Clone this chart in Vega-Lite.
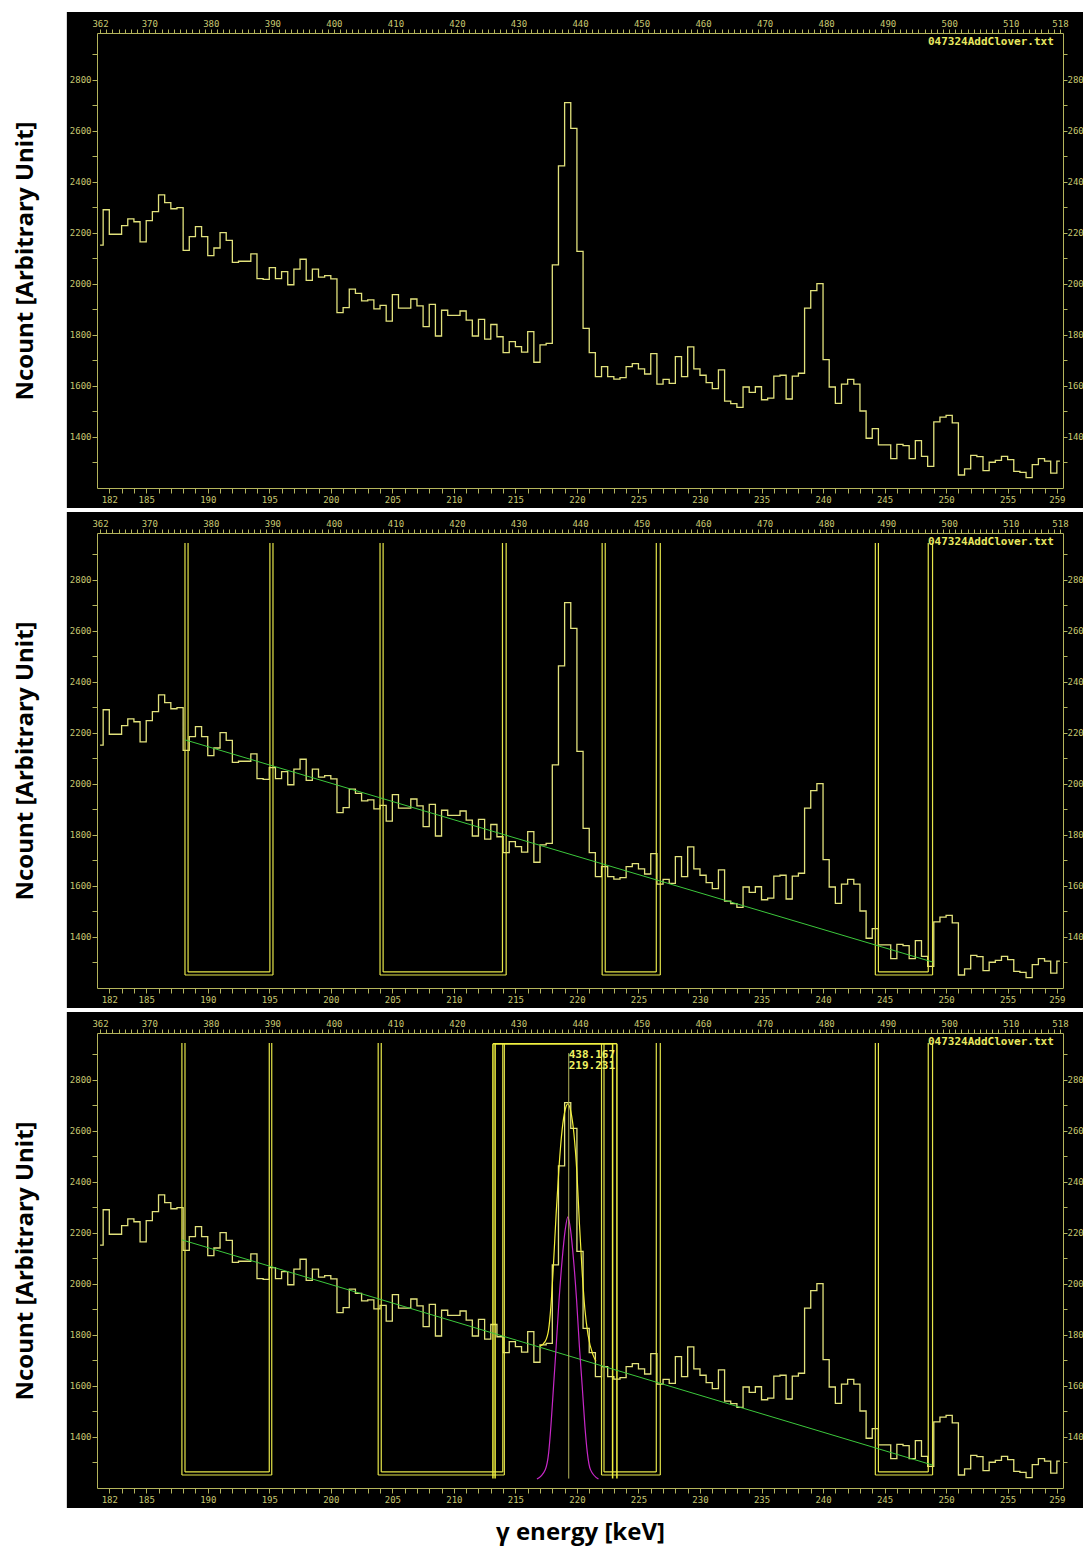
{
  "$schema": "https://vega.github.io/schema/vega-lite/v6.json",
  "background": "white",
  "padding": {"left": 13, "top": 12, "right": 0, "bottom": 4},
  "spacing": 4,
  "config": {
    "view": {"stroke": null},
    "axis": {
      "grid": false,
      "domainColor": "#b4b45c",
      "tickColor": "#b4b45c",
      "labelColor": "#c8c870",
      "labelFont": "DejaVu Sans Mono",
      "labelFontSize": 9,
      "titleColor": "black",
      "titleFont": "Open Sans",
      "titleFontWeight": "bold",
      "titleFontSize": 24
    }
  },
  "datasets": {
    "hist": [
      {"channel":362,"count":2152},{"channel":363,"count":2291},{"channel":364,"count":2195},{"channel":365,"count":2195},{"channel":366,"count":2229},{"channel":367,"count":2255},{"channel":368,"count":2244},{"channel":369,"count":2165},{"channel":370,"count":2248},{"channel":371,"count":2284},
      {"channel":372,"count":2349},{"channel":373,"count":2319},{"channel":374,"count":2295},{"channel":375,"count":2299},{"channel":376,"count":2132},{"channel":377,"count":2186},{"channel":378,"count":2225},{"channel":379,"count":2186},{"channel":380,"count":2111},{"channel":381,"count":2141},
      {"channel":382,"count":2201},{"channel":383,"count":2171},{"channel":384,"count":2085},{"channel":385,"count":2089},{"channel":386,"count":2089},{"channel":387,"count":2118},{"channel":388,"count":2021},{"channel":389,"count":2018},{"channel":390,"count":2064},{"channel":391,"count":2021},
      {"channel":392,"count":2048},{"channel":393,"count":1997},{"channel":394,"count":2058},{"channel":395,"count":2097},{"channel":396,"count":2014},{"channel":397,"count":2058},{"channel":398,"count":2027},{"channel":399,"count":2033},{"channel":400,"count":2020},{"channel":401,"count":1888},
      {"channel":402,"count":1907},{"channel":403,"count":1980},{"channel":404,"count":1963},{"channel":405,"count":1934},{"channel":406,"count":1938},{"channel":407,"count":1902},{"channel":408,"count":1916},{"channel":409,"count":1854},{"channel":410,"count":1958},{"channel":411,"count":1905},
      {"channel":412,"count":1905},{"channel":413,"count":1941},{"channel":414,"count":1914},{"channel":415,"count":1833},{"channel":416,"count":1920},{"channel":417,"count":1796},{"channel":418,"count":1897},{"channel":419,"count":1877},{"channel":420,"count":1877},{"channel":421,"count":1894},
      {"channel":422,"count":1858},{"channel":423,"count":1796},{"channel":424,"count":1861},{"channel":425,"count":1784},{"channel":426,"count":1841},{"channel":427,"count":1793},{"channel":428,"count":1731},{"channel":429,"count":1774},{"channel":430,"count":1754},{"channel":431,"count":1733},
      {"channel":432,"count":1813},{"channel":433,"count":1693},{"channel":434,"count":1761},{"channel":435,"count":1767},{"channel":436,"count":2075},{"channel":437,"count":2463},{"channel":438,"count":2711},{"channel":439,"count":2610},{"channel":440,"count":2128},{"channel":441,"count":1826},
      {"channel":442,"count":1731},{"channel":443,"count":1637},{"channel":444,"count":1676},{"channel":445,"count":1637},{"channel":446,"count":1627},{"channel":447,"count":1633},{"channel":448,"count":1676},{"channel":449,"count":1688},{"channel":450,"count":1667},{"channel":451,"count":1647},
      {"channel":452,"count":1727},{"channel":453,"count":1607},{"channel":454,"count":1626},{"channel":455,"count":1610},{"channel":456,"count":1715},{"channel":457,"count":1637},{"channel":458,"count":1753},{"channel":459,"count":1667},{"channel":460,"count":1642},{"channel":461,"count":1613},
      {"channel":462,"count":1590},{"channel":463,"count":1663},{"channel":464,"count":1541},{"channel":465,"count":1531},{"channel":466,"count":1516},{"channel":467,"count":1596},{"channel":468,"count":1575},{"channel":469,"count":1597},{"channel":470,"count":1546},{"channel":471,"count":1552},
      {"channel":472,"count":1639},{"channel":473,"count":1642},{"channel":474,"count":1549},{"channel":475,"count":1639},{"channel":476,"count":1650},{"channel":477,"count":1905},{"channel":478,"count":1974},{"channel":479,"count":2001},{"channel":480,"count":1703},{"channel":481,"count":1596},
      {"channel":482,"count":1532},{"channel":483,"count":1607},{"channel":484,"count":1626},{"channel":485,"count":1607},{"channel":486,"count":1502},{"channel":487,"count":1395},{"channel":488,"count":1433},{"channel":489,"count":1369},{"channel":490,"count":1369},{"channel":491,"count":1315},
      {"channel":492,"count":1371},{"channel":493,"count":1366},{"channel":494,"count":1315},{"channel":495,"count":1386},{"channel":496,"count":1324},{"channel":497,"count":1285},{"channel":498,"count":1459},{"channel":499,"count":1478},{"channel":500,"count":1485},{"channel":501,"count":1455},
      {"channel":502,"count":1251},{"channel":503,"count":1275},{"channel":504,"count":1328},{"channel":505,"count":1323},{"channel":506,"count":1268},{"channel":507,"count":1301},{"channel":508,"count":1308},{"channel":509,"count":1324},{"channel":510,"count":1311},{"channel":511,"count":1265},
      {"channel":512,"count":1261},{"channel":513,"count":1241},{"channel":514,"count":1292},{"channel":515,"count":1315},{"channel":516,"count":1305},{"channel":517,"count":1258},{"channel":518,"count":1305}
    ],
    "frame": [{"x0": 356.6, "x1": 521.8, "y0": 1122, "y1": 3066}],
    "file": [{"name": "047324AddClover.txt", "channel": 517, "count": 2949}],
    "p2regions": [
      {"left": 375.8, "right": 390.1, "top": 2945, "bottom": 1251},
      {"left": 376.3, "right": 389.6, "top": 2945, "bottom": 1263},
      {"left": 407.5, "right": 428.0, "top": 2945, "bottom": 1251},
      {"left": 408.0, "right": 427.4, "top": 2945, "bottom": 1263},
      {"left": 443.6, "right": 453.05, "top": 2945, "bottom": 1251},
      {"left": 444.1, "right": 452.4, "top": 2945, "bottom": 1263},
      {"left": 488.0, "right": 497.3, "top": 2945, "bottom": 1251},
      {"left": 488.5, "right": 496.6, "top": 2945, "bottom": 1263}
    ],
    "p2bg": [{"channel": 375.8, "count": 2173}, {"channel": 497.3, "count": 1302}],
    "p3regions": [
      {"left": 375.3, "right": 389.9, "top": 2945, "bottom": 1251},
      {"left": 375.8, "right": 389.5, "top": 2945, "bottom": 1263},
      {"left": 407.2, "right": 427.7, "top": 2945, "bottom": 1251},
      {"left": 407.7, "right": 427.45, "top": 2945, "bottom": 1263},
      {"left": 443.5, "right": 453.05, "top": 2945, "bottom": 1251},
      {"left": 443.9, "right": 452.4, "top": 2945, "bottom": 1263},
      {"left": 488.0, "right": 497.3, "top": 2945, "bottom": 1251},
      {"left": 488.5, "right": 496.6, "top": 2945, "bottom": 1263}
    ],
    "p3peak": [
      {"left": 425.85, "right": 446.0, "top": 2942, "bottom": 1237},
      {"left": 426.2, "right": 445.3, "top": 2942, "bottom": 1237}
    ],
    "p3bg": [{"channel": 375.3, "count": 2173}, {"channel": 497.3, "count": 1290}],
    "fit": [
      {"channel": 433.5, "count": 1756}, {"channel": 434.35, "count": 1775}, {"channel": 434.9, "count": 1821}, {"channel": 435.27, "count": 1912},
      {"channel": 435.7, "count": 2082}, {"channel": 436.13, "count": 2278}, {"channel": 436.6, "count": 2461}, {"channel": 437.1, "count": 2605},
      {"channel": 437.6, "count": 2684}, {"channel": 438.03, "count": 2706}, {"channel": 438.5, "count": 2677}, {"channel": 439.0, "count": 2592},
      {"channel": 439.5, "count": 2435}, {"channel": 439.9, "count": 2239}, {"channel": 440.36, "count": 2043}, {"channel": 440.8, "count": 1899},
      {"channel": 441.3, "count": 1801}, {"channel": 442.1, "count": 1723}, {"channel": 442.6, "count": 1697}
    ],
    "gauss": [
      {"channel": 433.0, "count": 1235}, {"channel": 434.35, "count": 1272}, {"channel": 434.9, "count": 1337}, {"channel": 435.27, "count": 1442},
      {"channel": 435.7, "count": 1599}, {"channel": 436.13, "count": 1756}, {"channel": 436.6, "count": 1939}, {"channel": 437.1, "count": 2095},
      {"channel": 437.6, "count": 2213}, {"channel": 438.03, "count": 2263}, {"channel": 438.46, "count": 2213}, {"channel": 438.95, "count": 2095},
      {"channel": 439.44, "count": 1939}, {"channel": 439.9, "count": 1756}, {"channel": 440.36, "count": 1599}, {"channel": 440.8, "count": 1442},
      {"channel": 441.2, "count": 1337}, {"channel": 441.7, "count": 1272}, {"channel": 443.0, "count": 1235}
    ],
    "centroid": [{"channel": 438.167, "energy": 219.231, "top": 2905, "bottom": 1237, "labelAt": 2878}]
  },
  "vconcat": [
    {
      "width": 966, "height": 455,
      "layer": [
        {
          "data": {"name": "frame"},
          "mark": {"type": "rect", "fill": "black", "clip": false},
          "encoding": {
            "x": {"field": "x0", "type": "quantitative", "scale": {"domain": [361.5, 518.5], "nice": false, "zero": false},
              "axis": {"orient": "bottom", "zindex": 1, "title": null, "values": [363.5,365.5,367.5,369.5,371.5,373.5,375.5,377.5,379.5,381.5,383.5,385.5,387.5,389.5,391.5,393.5,395.5,397.5,399.5,401.5,403.5,405.5,407.5,409.5,411.5,413.5,415.5,417.5,419.5,421.5,423.5,425.5,427.5,429.5,431.5,433.5,435.5,437.5,439.5,441.5,443.5,445.5,447.5,449.5,451.5,453.5,455.5,457.5,459.5,461.5,463.5,465.5,467.5,469.5,471.5,473.5,475.5,477.5,479.5,481.5,483.5,485.5,487.5,489.5,491.5,493.5,495.5,497.5,499.5,501.5,503.5,505.5,507.5,509.5,511.5,513.5,515.5,517.5],
                "labelExpr": "(((datum.value + 0.5) / 2) % 5 == 0 || datum.value == 363.5 || datum.value == 517.5) ? toString((datum.value + 0.5) / 2) : ''",
                "tickSize": 5, "labelPadding": 2, "labelOverlap": false, "labelFlush": false}},
            "x2": {"field": "x1"},
            "y": {"field": "y0", "type": "quantitative", "scale": {"domain": [1200, 2984], "nice": false, "zero": false},
              "axis": {"orient": "left", "zindex": 1, "values": [1300,1400,1500,1600,1700,1800,1900,2000,2100,2200,2300,2400,2500,2600,2700,2800,2900],
                "labelExpr": "datum.value % 200 == 0 ? toString(datum.value) : ''", "tickSize": 5, "labelPadding": 1, "labelOverlap": false, "labelFlush": false,
                "title": "Ncount [Arbitrary Unit]", "titleX": -72, "titleY": 227.5, "titleBaseline": "middle", "titleAngle": 270}},
            "y2": {"field": "y1"}
          }
        },
        {
          "data": {"name": "hist"},
          "mark": {"type": "line", "interpolate": "step", "stroke": "#e2e27c", "strokeWidth": 1.3},
          "encoding": {
            "x": {"field": "channel", "type": "quantitative",
              "axis": {"orient": "top", "zindex": 1, "title": null, "values": [362,363,364,365,366,367,368,369,370,371,372,373,374,375,376,377,378,379,380,381,382,383,384,385,386,387,388,389,390,391,392,393,394,395,396,397,398,399,400,401,402,403,404,405,406,407,408,409,410,411,412,413,414,415,416,417,418,419,420,421,422,423,424,425,426,427,428,429,430,431,432,433,434,435,436,437,438,439,440,441,442,443,444,445,446,447,448,449,450,451,452,453,454,455,456,457,458,459,460,461,462,463,464,465,466,467,468,469,470,471,472,473,474,475,476,477,478,479,480,481,482,483,484,485,486,487,488,489,490,491,492,493,494,495,496,497,498,499,500,501,502,503,504,505,506,507,508,509,510,511,512,513,514,515,516,517,518],
                "labelExpr": "(datum.value % 10 == 0 || datum.value == 362 || datum.value == 518) ? toString(datum.value) : ''",
                "tickSize": 4, "labelPadding": 1, "labelOverlap": false, "labelFlush": false}},
            "y": {"field": "count", "type": "quantitative",
              "axis": {"orient": "right", "zindex": 1, "title": null, "values": [1300,1400,1500,1600,1700,1800,1900,2000,2100,2200,2300,2400,2500,2600,2700,2800,2900],
                "labelExpr": "datum.value % 200 == 0 ? substring(toString(datum.value), 0, 3) : ''", "tickSize": 4, "labelPadding": 0, "labelOverlap": false, "labelFlush": false}}
          }
        },
        {
          "data": {"name": "file"},
          "mark": {"type": "text", "align": "right", "baseline": "middle", "font": "DejaVu Sans Mono", "fontWeight": "bold", "fontSize": 11, "color": "#e8e860"},
          "encoding": {
            "x": {"field": "channel", "type": "quantitative", "axis": null},
            "y": {"field": "count", "type": "quantitative", "axis": null},
            "text": {"field": "name", "type": "nominal"}
          }
        }
      ],
      "resolve": {"axis": {"x": "independent", "y": "independent"}}
    },
    {
      "width": 966, "height": 455,
      "layer": [
        {
          "data": {"name": "frame"},
          "mark": {"type": "rect", "fill": "black", "clip": false},
          "encoding": {
            "x": {"field": "x0", "type": "quantitative", "scale": {"domain": [361.5, 518.5], "nice": false, "zero": false},
              "axis": {"orient": "bottom", "zindex": 1, "title": null, "values": [363.5,365.5,367.5,369.5,371.5,373.5,375.5,377.5,379.5,381.5,383.5,385.5,387.5,389.5,391.5,393.5,395.5,397.5,399.5,401.5,403.5,405.5,407.5,409.5,411.5,413.5,415.5,417.5,419.5,421.5,423.5,425.5,427.5,429.5,431.5,433.5,435.5,437.5,439.5,441.5,443.5,445.5,447.5,449.5,451.5,453.5,455.5,457.5,459.5,461.5,463.5,465.5,467.5,469.5,471.5,473.5,475.5,477.5,479.5,481.5,483.5,485.5,487.5,489.5,491.5,493.5,495.5,497.5,499.5,501.5,503.5,505.5,507.5,509.5,511.5,513.5,515.5,517.5],
                "labelExpr": "(((datum.value + 0.5) / 2) % 5 == 0 || datum.value == 363.5 || datum.value == 517.5) ? toString((datum.value + 0.5) / 2) : ''",
                "tickSize": 5, "labelPadding": 2, "labelOverlap": false, "labelFlush": false}},
            "x2": {"field": "x1"},
            "y": {"field": "y0", "type": "quantitative", "scale": {"domain": [1200, 2984], "nice": false, "zero": false},
              "axis": {"orient": "left", "zindex": 1, "values": [1300,1400,1500,1600,1700,1800,1900,2000,2100,2200,2300,2400,2500,2600,2700,2800,2900],
                "labelExpr": "datum.value % 200 == 0 ? toString(datum.value) : ''", "tickSize": 5, "labelPadding": 1, "labelOverlap": false, "labelFlush": false,
                "title": "Ncount [Arbitrary Unit]", "titleX": -72, "titleY": 227.5, "titleBaseline": "middle", "titleAngle": 270}},
            "y2": {"field": "y1"}
          }
        },
        {
          "data": {"name": "hist"},
          "mark": {"type": "line", "interpolate": "step", "stroke": "#e2e27c", "strokeWidth": 1.3},
          "encoding": {
            "x": {"field": "channel", "type": "quantitative",
              "axis": {"orient": "top", "zindex": 1, "title": null, "values": [362,363,364,365,366,367,368,369,370,371,372,373,374,375,376,377,378,379,380,381,382,383,384,385,386,387,388,389,390,391,392,393,394,395,396,397,398,399,400,401,402,403,404,405,406,407,408,409,410,411,412,413,414,415,416,417,418,419,420,421,422,423,424,425,426,427,428,429,430,431,432,433,434,435,436,437,438,439,440,441,442,443,444,445,446,447,448,449,450,451,452,453,454,455,456,457,458,459,460,461,462,463,464,465,466,467,468,469,470,471,472,473,474,475,476,477,478,479,480,481,482,483,484,485,486,487,488,489,490,491,492,493,494,495,496,497,498,499,500,501,502,503,504,505,506,507,508,509,510,511,512,513,514,515,516,517,518],
                "labelExpr": "(datum.value % 10 == 0 || datum.value == 362 || datum.value == 518) ? toString(datum.value) : ''",
                "tickSize": 4, "labelPadding": 1, "labelOverlap": false, "labelFlush": false}},
            "y": {"field": "count", "type": "quantitative",
              "axis": {"orient": "right", "zindex": 1, "title": null, "values": [1300,1400,1500,1600,1700,1800,1900,2000,2100,2200,2300,2400,2500,2600,2700,2800,2900],
                "labelExpr": "datum.value % 200 == 0 ? substring(toString(datum.value), 0, 3) : ''", "tickSize": 4, "labelPadding": 0, "labelOverlap": false, "labelFlush": false}}
          }
        },
        {
          "data": {"name": "p2regions"},
          "mark": {"type": "rule", "color": "#e6e64a", "strokeWidth": 1.2},
          "encoding": {
            "x": {"field": "left", "type": "quantitative", "axis": null},
            "y": {"field": "top", "type": "quantitative", "axis": null},
            "y2": {"field": "bottom"}
          }
        },
        {
          "data": {"name": "p2regions"},
          "mark": {"type": "rule", "color": "#e6e64a", "strokeWidth": 1.2},
          "encoding": {
            "x": {"field": "right", "type": "quantitative", "axis": null},
            "y": {"field": "top", "type": "quantitative", "axis": null},
            "y2": {"field": "bottom"}
          }
        },
        {
          "data": {"name": "p2regions"},
          "mark": {"type": "rule", "color": "#e6e64a", "strokeWidth": 1.2},
          "encoding": {
            "x": {"field": "left", "type": "quantitative", "axis": null},
            "x2": {"field": "right"},
            "y": {"field": "bottom", "type": "quantitative", "axis": null}
          }
        },
        {
          "data": {"name": "p2bg"},
          "mark": {"type": "line", "color": "#3cc83c", "strokeWidth": 1},
          "encoding": {
            "x": {"field": "channel", "type": "quantitative", "axis": null},
            "y": {"field": "count", "type": "quantitative", "axis": null}
          }
        },
        {
          "data": {"name": "file"},
          "mark": {"type": "text", "align": "right", "baseline": "middle", "font": "DejaVu Sans Mono", "fontWeight": "bold", "fontSize": 11, "color": "#e8e860"},
          "encoding": {
            "x": {"field": "channel", "type": "quantitative", "axis": null},
            "y": {"field": "count", "type": "quantitative", "axis": null},
            "text": {"field": "name", "type": "nominal"}
          }
        }
      ],
      "resolve": {"axis": {"x": "independent", "y": "independent"}}
    },
    {
      "width": 966, "height": 455,
      "layer": [
        {
          "data": {"name": "frame"},
          "mark": {"type": "rect", "fill": "black", "clip": false},
          "encoding": {
            "x": {"field": "x0", "type": "quantitative", "scale": {"domain": [361.5, 518.5], "nice": false, "zero": false},
              "axis": {"orient": "bottom", "zindex": 1, "title": "γ energy [keV]", "titleX": 483, "titleY": 44, "titleBaseline": "middle", "values": [363.5,365.5,367.5,369.5,371.5,373.5,375.5,377.5,379.5,381.5,383.5,385.5,387.5,389.5,391.5,393.5,395.5,397.5,399.5,401.5,403.5,405.5,407.5,409.5,411.5,413.5,415.5,417.5,419.5,421.5,423.5,425.5,427.5,429.5,431.5,433.5,435.5,437.5,439.5,441.5,443.5,445.5,447.5,449.5,451.5,453.5,455.5,457.5,459.5,461.5,463.5,465.5,467.5,469.5,471.5,473.5,475.5,477.5,479.5,481.5,483.5,485.5,487.5,489.5,491.5,493.5,495.5,497.5,499.5,501.5,503.5,505.5,507.5,509.5,511.5,513.5,515.5,517.5],
                "labelExpr": "(((datum.value + 0.5) / 2) % 5 == 0 || datum.value == 363.5 || datum.value == 517.5) ? toString((datum.value + 0.5) / 2) : ''",
                "tickSize": 5, "labelPadding": 2, "labelOverlap": false, "labelFlush": false}},
            "x2": {"field": "x1"},
            "y": {"field": "y0", "type": "quantitative", "scale": {"domain": [1200, 2984], "nice": false, "zero": false},
              "axis": {"orient": "left", "zindex": 1, "values": [1300,1400,1500,1600,1700,1800,1900,2000,2100,2200,2300,2400,2500,2600,2700,2800,2900],
                "labelExpr": "datum.value % 200 == 0 ? toString(datum.value) : ''", "tickSize": 5, "labelPadding": 1, "labelOverlap": false, "labelFlush": false,
                "title": "Ncount [Arbitrary Unit]", "titleX": -72, "titleY": 227.5, "titleBaseline": "middle", "titleAngle": 270}},
            "y2": {"field": "y1"}
          }
        },
        {
          "data": {"name": "hist"},
          "mark": {"type": "line", "interpolate": "step", "stroke": "#e2e27c", "strokeWidth": 1.3},
          "encoding": {
            "x": {"field": "channel", "type": "quantitative",
              "axis": {"orient": "top", "zindex": 1, "title": null, "values": [362,363,364,365,366,367,368,369,370,371,372,373,374,375,376,377,378,379,380,381,382,383,384,385,386,387,388,389,390,391,392,393,394,395,396,397,398,399,400,401,402,403,404,405,406,407,408,409,410,411,412,413,414,415,416,417,418,419,420,421,422,423,424,425,426,427,428,429,430,431,432,433,434,435,436,437,438,439,440,441,442,443,444,445,446,447,448,449,450,451,452,453,454,455,456,457,458,459,460,461,462,463,464,465,466,467,468,469,470,471,472,473,474,475,476,477,478,479,480,481,482,483,484,485,486,487,488,489,490,491,492,493,494,495,496,497,498,499,500,501,502,503,504,505,506,507,508,509,510,511,512,513,514,515,516,517,518],
                "labelExpr": "(datum.value % 10 == 0 || datum.value == 362 || datum.value == 518) ? toString(datum.value) : ''",
                "tickSize": 4, "labelPadding": 1, "labelOverlap": false, "labelFlush": false}},
            "y": {"field": "count", "type": "quantitative",
              "axis": {"orient": "right", "zindex": 1, "title": null, "values": [1300,1400,1500,1600,1700,1800,1900,2000,2100,2200,2300,2400,2500,2600,2700,2800,2900],
                "labelExpr": "datum.value % 200 == 0 ? substring(toString(datum.value), 0, 3) : ''", "tickSize": 4, "labelPadding": 0, "labelOverlap": false, "labelFlush": false}}
          }
        },
        {
          "data": {"name": "p3regions"},
          "mark": {"type": "rule", "color": "#e6e64a", "strokeWidth": 1.2},
          "encoding": {
            "x": {"field": "left", "type": "quantitative", "axis": null},
            "y": {"field": "top", "type": "quantitative", "axis": null},
            "y2": {"field": "bottom"}
          }
        },
        {
          "data": {"name": "p3regions"},
          "mark": {"type": "rule", "color": "#e6e64a", "strokeWidth": 1.2},
          "encoding": {
            "x": {"field": "right", "type": "quantitative", "axis": null},
            "y": {"field": "top", "type": "quantitative", "axis": null},
            "y2": {"field": "bottom"}
          }
        },
        {
          "data": {"name": "p3regions"},
          "mark": {"type": "rule", "color": "#e6e64a", "strokeWidth": 1.2},
          "encoding": {
            "x": {"field": "left", "type": "quantitative", "axis": null},
            "x2": {"field": "right"},
            "y": {"field": "bottom", "type": "quantitative", "axis": null}
          }
        },
        {
          "data": {"name": "p3peak"},
          "mark": {"type": "rule", "color": "#f0f040", "strokeWidth": 1.5},
          "encoding": {
            "x": {"field": "left", "type": "quantitative", "axis": null},
            "y": {"field": "top", "type": "quantitative", "axis": null},
            "y2": {"field": "bottom"}
          }
        },
        {
          "data": {"name": "p3peak"},
          "mark": {"type": "rule", "color": "#f0f040", "strokeWidth": 1.5},
          "encoding": {
            "x": {"field": "right", "type": "quantitative", "axis": null},
            "y": {"field": "top", "type": "quantitative", "axis": null},
            "y2": {"field": "bottom"}
          }
        },
        {
          "data": {"name": "p3peak"},
          "mark": {"type": "rule", "color": "#f0f040", "strokeWidth": 1.5},
          "encoding": {
            "x": {"field": "left", "type": "quantitative", "axis": null},
            "x2": {"field": "right"},
            "y": {"field": "top", "type": "quantitative", "axis": null}
          }
        },
        {
          "data": {"name": "p3bg"},
          "mark": {"type": "line", "color": "#3cc83c", "strokeWidth": 1},
          "encoding": {
            "x": {"field": "channel", "type": "quantitative", "axis": null},
            "y": {"field": "count", "type": "quantitative", "axis": null}
          }
        },
        {
          "data": {"name": "gauss"},
          "mark": {"type": "line", "color": "#c828c8", "strokeWidth": 1.2, "interpolate": "monotone"},
          "encoding": {
            "x": {"field": "channel", "type": "quantitative", "axis": null},
            "y": {"field": "count", "type": "quantitative", "axis": null}
          }
        },
        {
          "data": {"name": "fit"},
          "mark": {"type": "line", "color": "#f4f038", "strokeWidth": 1.2, "interpolate": "monotone"},
          "encoding": {
            "x": {"field": "channel", "type": "quantitative", "axis": null},
            "y": {"field": "count", "type": "quantitative", "axis": null}
          }
        },
        {
          "data": {"name": "centroid"},
          "mark": {"type": "rule", "color": "#b4b45c", "strokeWidth": 1},
          "encoding": {
            "x": {"field": "channel", "type": "quantitative", "axis": null},
            "y": {"field": "top", "type": "quantitative", "axis": null},
            "y2": {"field": "bottom"}
          }
        },
        {
          "data": {"name": "centroid"},
          "mark": {"type": "text", "align": "left", "baseline": "middle", "font": "DejaVu Sans Mono", "fontWeight": "bold", "fontSize": 11, "color": "#f0f060", "dy": -5},
          "encoding": {
            "x": {"field": "channel", "type": "quantitative", "axis": null},
            "y": {"field": "labelAt", "type": "quantitative", "axis": null},
            "text": {"field": "channel", "type": "quantitative", "format": ".3f"}
          }
        },
        {
          "data": {"name": "centroid"},
          "mark": {"type": "text", "align": "left", "baseline": "middle", "font": "DejaVu Sans Mono", "fontWeight": "bold", "fontSize": 11, "color": "#f0f060", "dy": 6},
          "encoding": {
            "x": {"field": "channel", "type": "quantitative", "axis": null},
            "y": {"field": "labelAt", "type": "quantitative", "axis": null},
            "text": {"field": "energy", "type": "quantitative", "format": ".3f"}
          }
        },
        {
          "data": {"name": "file"},
          "mark": {"type": "text", "align": "right", "baseline": "middle", "font": "DejaVu Sans Mono", "fontWeight": "bold", "fontSize": 11, "color": "#e8e860"},
          "encoding": {
            "x": {"field": "channel", "type": "quantitative", "axis": null},
            "y": {"field": "count", "type": "quantitative", "axis": null},
            "text": {"field": "name", "type": "nominal"}
          }
        }
      ],
      "resolve": {"axis": {"x": "independent", "y": "independent"}}
    }
  ]
}
